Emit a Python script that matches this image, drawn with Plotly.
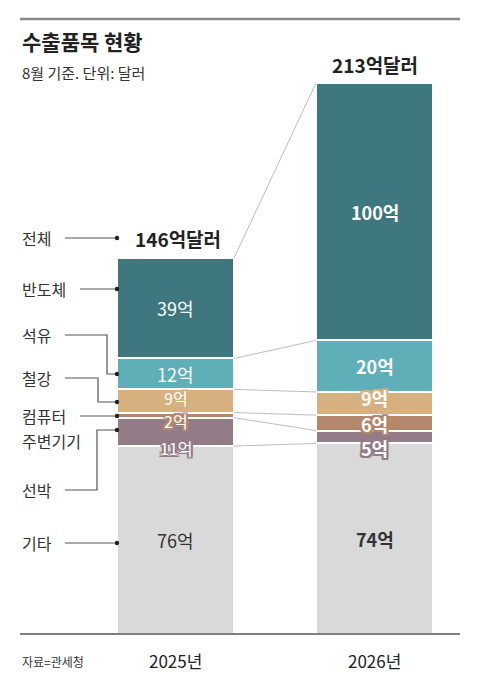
import plotly.graph_objects as go

# data (bar heights; printed labels kept as shown)
years = ["2025년", "2026년"]
items = ["기타", "선박", "컴퓨터 주변기기", "철강", "석유", "반도체"]
v2025 = [73, 11, 2, 9, 12, 39]
v2026 = [74, 5, 6, 9, 20, 100]
labels2025 = ["76억", "11억", "2억", "9억", "12억", "39억"]
labels2026 = ["74억", "5억", "6억", "9억", "20억", "100억"]
totals = ["146억달러", "213억달러"]
colors = ["#d9d9d9", "#937b87", "#b3876a", "#d6b07e", "#5fafb9", "#3e777d"]

FONT = "Noto Sans CJK KR"
W, H = 480, 690
BASE = 634          # pixel row of the baseline
SCALE = 2.575       # px per 억달러
X0, STEP = 175.5, 199
BAR_W = 117 / STEP


def px(x):
    return x / W


def py(y):
    return (BASE - y) / BASE


def cum(vals):
    out, s = [], 0
    for v in vals:
        s += v
        out.append(s)
    return out


series = [v2025, v2026]
series_labels = [labels2025, labels2026]
fig = go.Figure()

for i, name in enumerate(items):
    fig.add_trace(go.Bar(
        x=[0, 1], y=[v2025[i], v2026[i]], name=name,
        width=BAR_W, marker=dict(color=colors[i], line=dict(color="white", width=2)),
        hoverinfo="skip",
    ))

# grey connectors between segment boundaries
c25, c26 = cum(v2025), cum(v2026)
lx, ly = [], []
for a, b in zip(c25, c26):
    lx += [BAR_W / 2, 1 - BAR_W / 2, None]
    ly += [a, b, None]
fig.add_trace(go.Scatter(x=lx, y=ly, mode="lines", line=dict(color="#bdbdbd", width=1),
                         hoverinfo="skip"))

ann = []


def outline(c, r=2):
    pts = [(-r, -r), (r, -r), (-r, r), (r, r), (0, r), (0, -r), (r, 0), (-r, 0)]
    return ", ".join(f"{dx}px {dy}px 0 {c}" for dx, dy in pts)


# value labels in bars (pixel nudges for thin segments)
nudge = [[0, 16, 6, -3, 0, 0], [0, 11, 1, -6, 0, 0]]
for j, vals in enumerate(series):
    cs = cum(vals)
    for i, v in enumerate(vals):
        mid = cs[i] - v / 2 - nudge[j][i] / SCALE
        small = v < 12 and i > 0
        col = "#333333" if i == 0 else "white"
        size = 16 if (small and j == 0) else 18
        f = dict(family=FONT, size=size, color=col, weight=700 if j == 1 else 400)
        if small:
            f["shadow"] = outline(colors[i])
        ann.append(dict(x=j, y=mid, xref="x", yref="y", text=series_labels[j][i],
                        showarrow=False, font=f, xanchor="center", yanchor="middle",
                        borderpad=0))

# totals
ann.append(dict(x=px(133), y=py(238), xref="paper", yref="paper", text=totals[0],
                showarrow=False, xanchor="left", yanchor="middle",
                font=dict(family=FONT, size=19, color="#222", weight=700)))
ann.append(dict(x=1, y=c26[-1], xref="x", yref="y", yshift=3, text=totals[1],
                showarrow=False, xanchor="center", yanchor="bottom",
                font=dict(family=FONT, size=19, color="#222", weight=700)))

# years
for j, yr in enumerate(years):
    ann.append(dict(x=j, y=py(660), xref="x", yref="paper", text=yr, showarrow=False,
                    xanchor="center", yanchor="middle",
                    font=dict(family=FONT, size=17, color="#222")))

# title etc
ann.append(dict(x=px(20), y=py(41), xref="paper", yref="paper", text="수출품목 현황",
                showarrow=False, xanchor="left", yanchor="middle",
                font=dict(family=FONT, size=21, color="#222", weight=700)))
ann.append(dict(x=px(20), y=py(73), xref="paper", yref="paper", text="8월 기준. 단위: 달러",
                showarrow=False, xanchor="left", yanchor="middle",
                font=dict(family=FONT, size=15, color="#333")))
ann.append(dict(x=px(20), y=py(661), xref="paper", yref="paper", text="자료=관세청",
                showarrow=False, xanchor="left", yanchor="middle",
                font=dict(family=FONT, size=12, color="#333")))

# left labels with leader lines (pixel positions)
label_rows = {
    "전체": [238],
    "반도체": [289],
    "석유": [335],
    "철강": [378],
    "컴퓨터 주변기기": [416, 441],
    "선박": [490],
    "기타": [543],
}
for name, rows in label_rows.items():
    for part, r in zip(name.split(" "), rows):
        ann.append(dict(x=px(20), y=py(r), xref="paper", yref="paper", text=part,
                        showarrow=False, xanchor="left", yanchor="middle",
                        font=dict(family=FONT, size=16, color="#333")))

leaders = [
    [(65, 238), (117, 238)],
    [(80, 289), (117, 289)],
    [(65, 335), (107, 335), (107, 374), (117, 374)],
    [(65, 378), (98, 378), (98, 402), (117, 402)],
    [(80, 416), (117, 416)],
    [(65, 490), (97, 490), (97, 430), (117, 430)],
    [(65, 543), (117, 543)],
]
shapes = []
for pts in leaders:
    path = "M " + " L ".join(f"{px(a):.5f},{py(b):.5f}" for a, b in pts)
    shapes.append(dict(type="path", path=path, xref="paper", yref="paper",
                       line=dict(color="#555", width=1.2)))
    ex, ey = pts[-1]
    shapes.append(dict(type="circle", xref="paper", yref="paper",
                       x0=px(ex - 2.2), x1=px(ex + 2.2), y0=py(ey + 2.2), y1=py(ey - 2.2),
                       fillcolor="#222", line=dict(width=0)))

# top rule and baseline
shapes.append(dict(type="line", xref="paper", yref="paper", x0=px(20), x1=px(460),
                   y0=py(19), y1=py(19), line=dict(color="#888", width=2.5)))
shapes.append(dict(type="line", xref="paper", yref="paper", x0=px(20), x1=px(460),
                   y0=py(BASE), y1=py(BASE), line=dict(color="#555", width=1.5)))

fig.update_layout(
    width=W, height=H,
    margin=dict(l=0, r=0, t=0, b=H - BASE),
    barmode="stack", bargap=0,
    showlegend=False,
    plot_bgcolor="white", paper_bgcolor="white",
    xaxis=dict(range=[-X0 / STEP, (W - X0) / STEP], visible=False, fixedrange=True),
    yaxis=dict(range=[0, BASE / SCALE], visible=False, fixedrange=True),
    annotations=ann, shapes=shapes,
)

fig.write_html("out.html", config={"displayModeBar": False},
               post_script="document.body.style.margin='0';document.body.style.overflow='hidden';")
